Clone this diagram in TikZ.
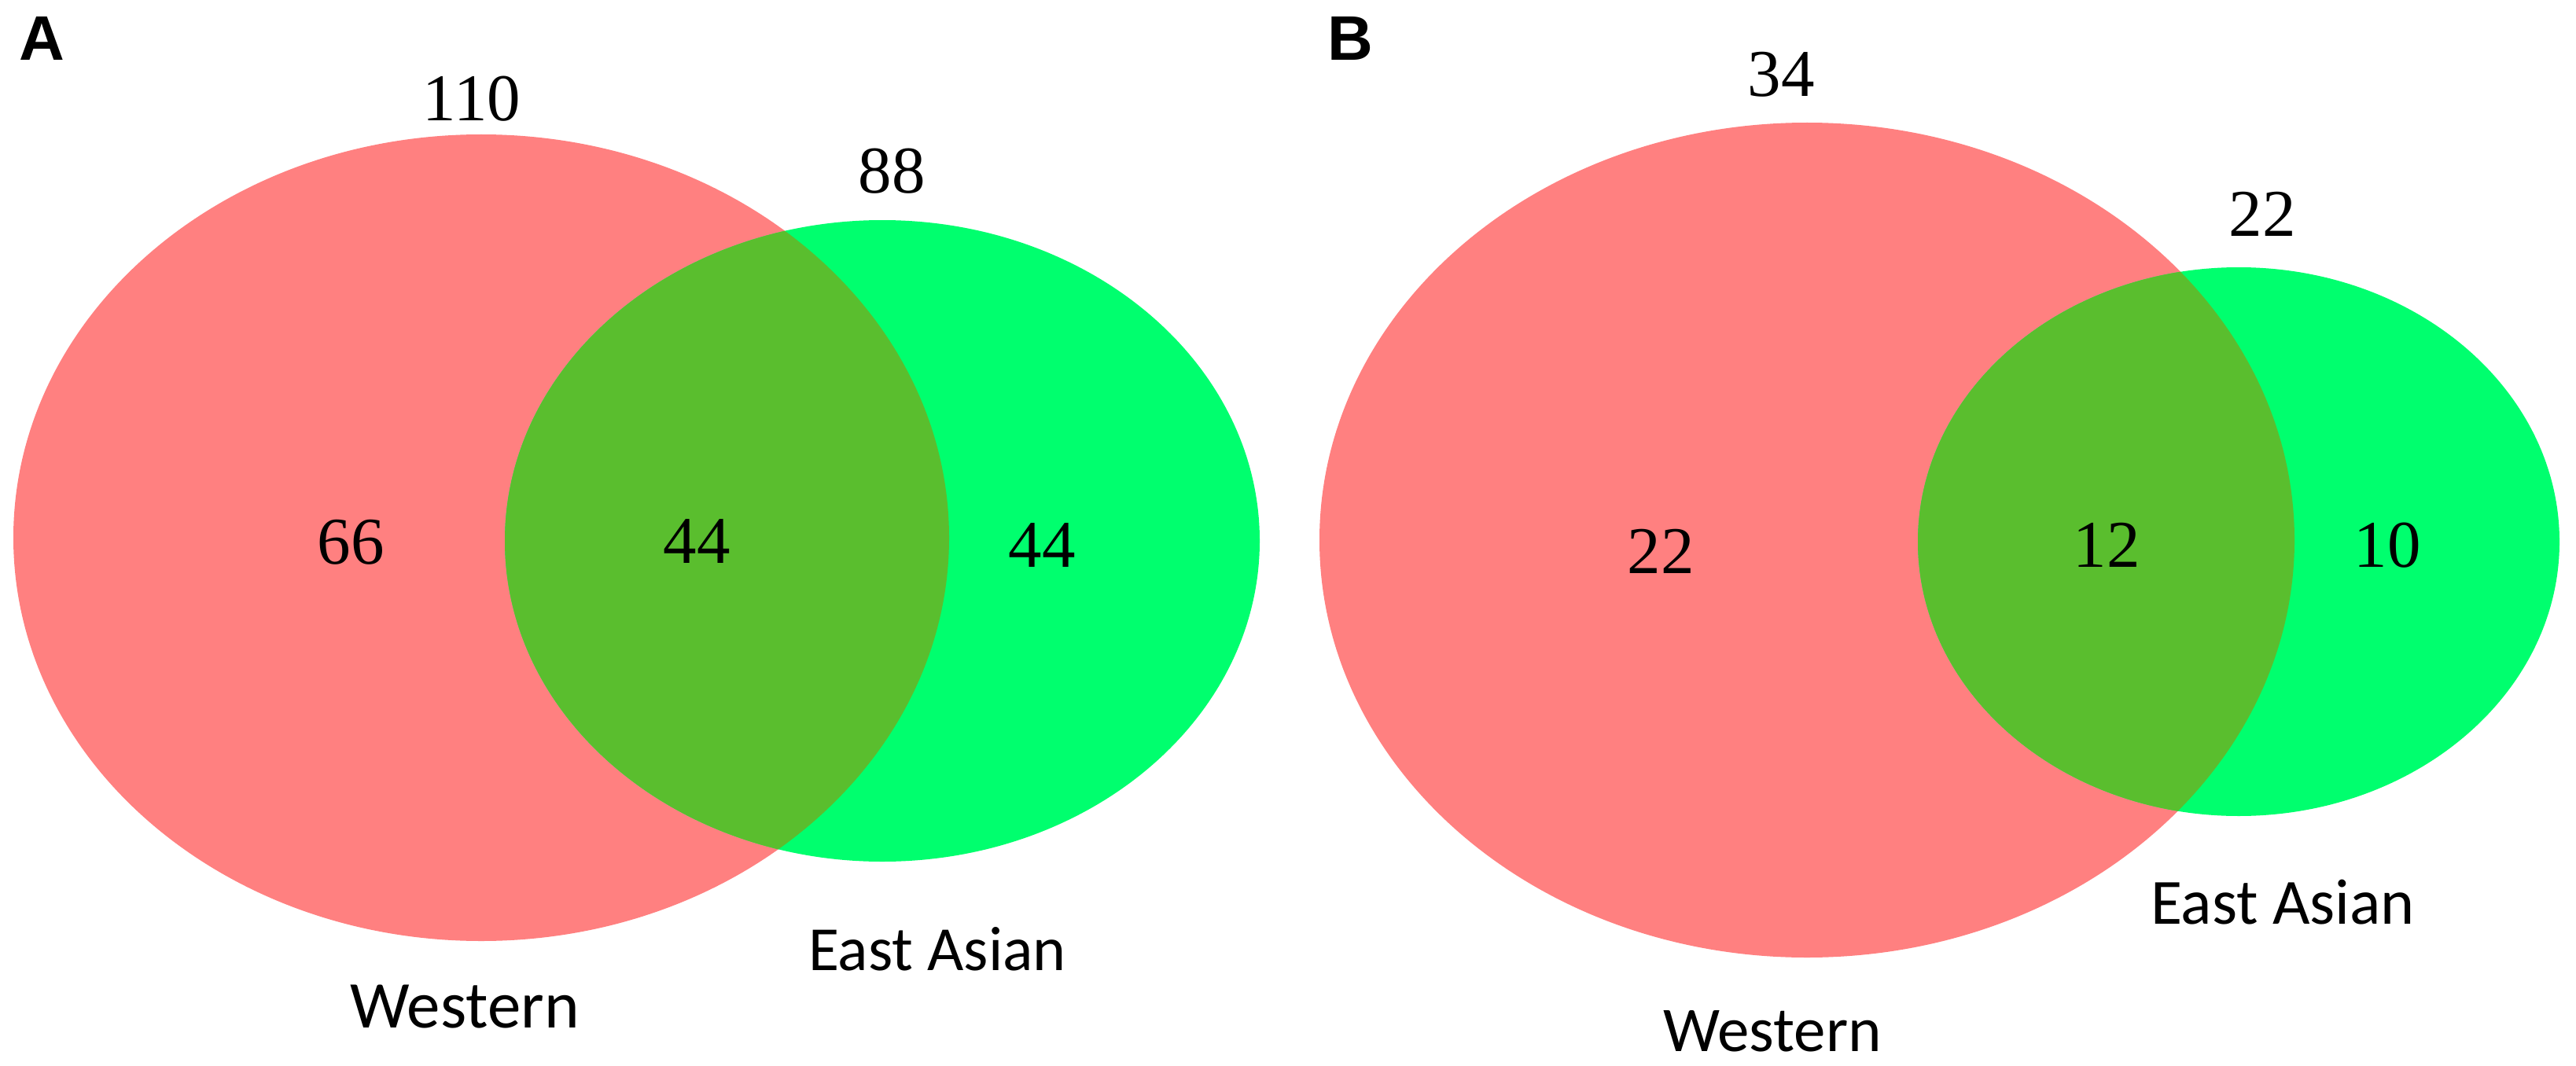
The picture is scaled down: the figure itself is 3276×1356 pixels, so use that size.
\documentclass[tikz,border=0pt]{standalone}
\usepackage{fontspec}
\setmainfont{Liberation Serif}
\newfontfamily\labfont{Carlito}
\newfontfamily\panfont{Liberation Sans}
\definecolor{wred}{RGB}{255,128,128}
\definecolor{egreen}{RGB}{0,255,110}
\definecolor{ovl}{RGB}{90,190,46}
\tikzset{
  num/.style={anchor=base,inner sep=0pt,font=\fontsize{85}{96}\selectfont},
  lab/.style={inner sep=0pt,font=\labfont\fontsize{85}{100}\selectfont},
  pan/.style={anchor=base,inner sep=0pt,font=\panfont\bfseries\fontsize{80}{96}\selectfont}
}
\begin{document}
\begin{tikzpicture}[x=1pt,y=-1pt]
\useasboundingbox (0,0) rectangle (3276,1356);
% Panel A
\fill[wred] (612,684) ellipse [x radius=595, y radius=513];
\fill[egreen] (1122,688) ellipse [x radius=480, y radius=408];
\begin{scope}
\clip (612,684) ellipse [x radius=595, y radius=513];
\fill[ovl] (1122,688) ellipse [x radius=480, y radius=408];
\end{scope}
% Panel B
\fill[wred] (2298,687) ellipse [x radius=620, y radius=531];
\fill[egreen] (2847,689) ellipse [x radius=408, y radius=349];
\begin{scope}
\clip (2298,687) ellipse [x radius=620, y radius=531];
\fill[ovl] (2847,689) ellipse [x radius=408, y radius=349];
\end{scope}
% labels
\node[pan] (pa) at (53,77) {A};
\node[pan] (pb) at (1717,77) {B};
\node[num] (a110) at (600,154) {110};
\node[num] (a88) at (1134,246) {88};
\node[num] (a66) at (446,717) {66};
\node[num] (a44m) at (886,716) {44};
\node[num] (a44r) at (1325,721) {44};
\node[lab,anchor=base] (aw) at (591,1307) {Western};
\node[lab,anchor=base west,font=\labfont\fontsize{80}{96}\selectfont] (ae) at (1028,1234) {East Asian};
\node[num] (b34) at (2265,123) {34};
\node[num] (b22t) at (2877,301) {22};
\node[num] (b22) at (2112,729) {22};
\node[num] (b12) at (2679,721) {12};
\node[num] (b10) at (3036,721) {10};
\node[lab,anchor=base,font=\labfont\fontsize{81}{96}\selectfont] (bw) at (2254,1337) {Western};
\node[lab,anchor=base west,font=\labfont\fontsize{82}{96}\selectfont] (be) at (2735,1175) {East Asian};
\end{tikzpicture}
\end{document}
